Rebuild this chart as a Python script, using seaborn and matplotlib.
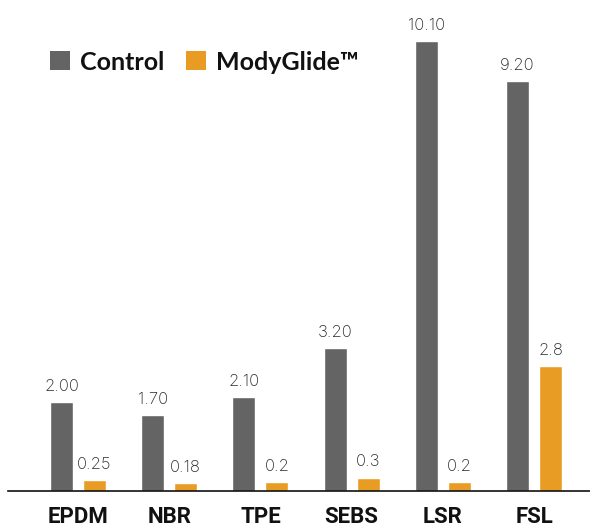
import matplotlib
matplotlib.use("Agg")
import matplotlib.pyplot as plt
import seaborn as sns
import pandas as pd
from matplotlib.patches import Patch

categories = ["EPDM", "NBR", "TPE", "SEBS", "LSR", "FSL"]
control = [2.00, 1.70, 2.10, 3.20, 10.10, 9.20]
modyglide = [0.25, 0.18, 0.2, 0.3, 0.2, 2.8]
control_labels = ["2.00", "1.70", "2.10", "3.20", "10.10", "9.20"]
modyglide_labels = ["0.25", "0.18", "0.2", "0.3", "0.2", "2.8"]
series = ["Control", "ModyGlide\u2122"]
colors = ["#646464", "#E99C23"]

df = pd.DataFrame({
    "Material": categories * 2,
    "Value": control + modyglide,
    "Series": [series[0]] * len(categories) + [series[1]] * len(categories),
})

sns.set_style("white")
plt.rcParams["font.family"] = ["Lato", "DejaVu Sans"]

fig = plt.figure(figsize=(5.9, 5.29), dpi=100)
ax = fig.add_axes([8 / 590, 1 - 491 / 529, 582 / 590, 490 / 529])

sns.barplot(data=df, x="Material", y="Value", hue="Series", order=categories,
            hue_order=series, palette=colors, width=0.724, gap=0.30,
            saturation=1, legend=False, ax=ax, errorbar=None)

for cont, labels in zip(ax.containers, [control_labels, modyglide_labels]):
    ax.bar_label(cont, labels=labels, padding=6, fontsize=12, color="#2a2a2a",
                 fontfamily="Inter", fontweight="light")

ax.set_xlim(-0.768, 5.614)
ax.set_ylim(0, 11)
ax.set_xlabel("")
ax.set_ylabel("")
ax.set_yticks([])
for s in ["top", "right", "left"]:
    ax.spines[s].set_visible(False)
ax.spines["bottom"].set_color("#111111")
ax.spines["bottom"].set_linewidth(1.2)
ax.tick_params(axis="x", length=0, pad=11)
for t in ax.get_xticklabels():
    t.set_fontsize(16)
    t.set_fontfamily("Roboto")
    t.set_fontweight("bold")
    t.set_color("#111111")

handles = [Patch(facecolor=c, edgecolor="none") for c in colors]
leg = fig.legend(handles, series, loc="center left", bbox_to_anchor=(50 / 590, 1 - 62 / 529),
                 frameon=False, ncol=2, handlelength=0.8, handleheight=0.8,
                 handletextpad=0.4, columnspacing=0.85, borderpad=0, borderaxespad=0,
                 prop={"size": 18, "weight": "bold", "family": "Lato"})
for t in leg.get_texts():
    t.set_color("#111111")

fig.savefig("out.png", dpi=100)
